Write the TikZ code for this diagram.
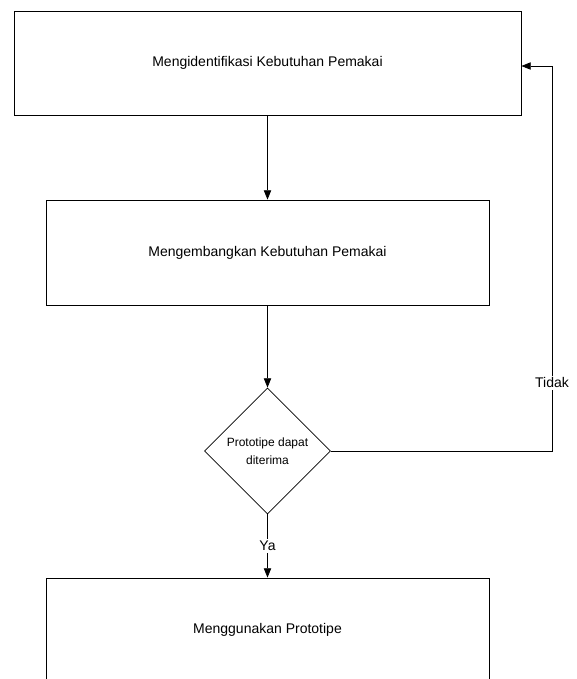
\documentclass[tikz,border=0pt]{standalone}
\usepackage{fontspec}
\setmainfont{Liberation Sans}
\usetikzlibrary{arrows.meta,shapes.geometric}
\begin{document}
\begin{tikzpicture}[x=0.75pt,y=-0.75pt,
  line width=0.6pt,
  procbox/.style={draw, rectangle, inner sep=0pt, font=\fontsize{10.5}{12.6}\selectfont},
  decision/.style={draw, diamond, aspect=1, inner sep=0pt, minimum size=94.5pt, align=center, font=\fontsize{9}{13.5}\selectfont},
  arr/.style={-{Triangle[length=7pt,width=5.5pt]}},
  lbl/.style={fill=white, inner sep=1.5pt, font=\fontsize{10.5}{12.6}\selectfont}]
\clip (0,0) rectangle (576,679);
\fill[white] (0,0) rectangle (576,679);
\node[procbox, minimum width=380.25pt, minimum height=78pt] (box1) at (267.5,63) {Mengidentifikasi Kebutuhan Pemakai};
\node[procbox, minimum width=332.25pt, minimum height=78.75pt] (box2) at (267.5,252.5) {Mengembangkan Kebutuhan Pemakai};
\node[decision] (dia) at (267.5,451) {Prototipe dapat\\diterima};
\node[procbox, minimum width=332.25pt, minimum height=78pt] (box3) at (267.5,630) {Menggunakan Prototipe};
\coordinate (c1) at (552,451);
\coordinate (c2) at (552,66);
\draw[arr] (box1.south) -- (box2.north);
\draw[arr] (box2.south) -- (dia.north);
\draw[arr] (dia.south) -- node[lbl] {Ya} (box3.north);
\draw[arr] (dia.east) -- (c1) -- node[lbl, pos=0.177] {Tidak} (c2) -- (box1.east |- c2);
\end{tikzpicture}
\end{document}
